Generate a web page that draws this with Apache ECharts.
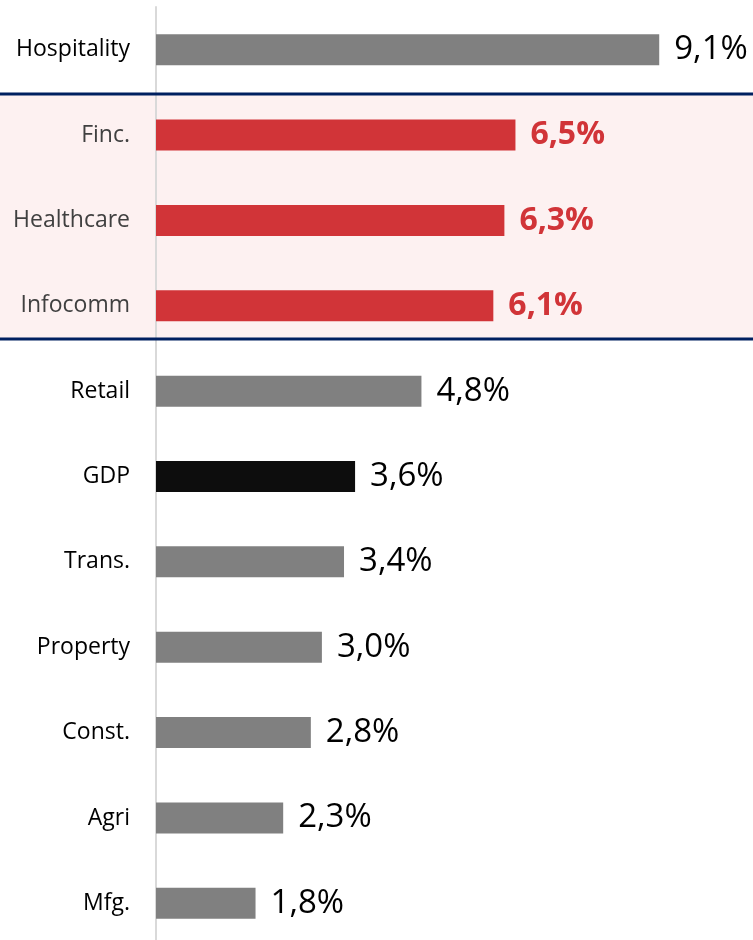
<!DOCTYPE html>
<html>
<head>
<meta charset="utf-8">
<script src="https://cdn.jsdelivr.net/npm/echarts@6/dist/echarts.min.js"></script>
<style>
html,body{margin:0;padding:0;background:#fff;}
#c{width:753px;height:940px;}
</style>
</head>
<body>
<div id="c"></div>
<script>
const categories = ['Hospitality','Finc.','Healthcare','Infocomm','Retail','GDP','Trans.','Property','Const.','Agri','Mfg.'];
const values = [9.1, 6.5, 6.3, 6.1, 4.8, 3.6, 3.4, 3.0, 2.8, 2.3, 1.8];
const highlighted = ['Finc.','Healthcare','Infocomm'];
const benchmark = 'GDP';

const GRAY = '#808080', RED = '#d13438', BLACK = '#0d0d0d', NAVY = '#002060', PINK = '#fdf1f1';

const chart = echarts.init(document.getElementById('c'), null, {renderer:'canvas'});
const font = '"Open Sans", "Noto Sans", sans-serif';

const data = categories.map((c, i) => {
  const hi = highlighted.includes(c);
  const isB = c === benchmark;
  return {
    value: values[i],
    itemStyle: {color: hi ? RED : (isB ? BLACK : GRAY)},
    label: hi ? {color: RED, fontWeight: 'bold', fontSize: 32} : {color: '#000', fontWeight: 'normal', fontSize: 33}
  };
});

chart.setOption({
  animation: false,
  grid: {left: 156, top: 7, width: 553, height: 939, containLabel: false, outerBoundsMode: 'none'},
  xAxis: {type: 'value', min: 0, max: 10, show: false},
  yAxis: {
    type: 'category', data: categories, inverse: true,
    axisLine: {show: true, lineStyle: {color: '#d9d9d9', width: 2}},
    axisTick: {show: false},
    axisLabel: {
      margin: 26, fontSize: 23, fontFamily: font,
      color: function (v) { return highlighted.includes(v) ? '#404040' : '#000'; }
    }
  },
  series: [{
    type: 'bar', data: data, barWidth: 31, z: 3,
    label: {
      show: true, position: 'right', distance: 15, fontFamily: font,
      formatter: p => p.value.toFixed(1).replace('.', ',') + '%'
    }
  }]
});

// highlight band derived from the category scale
const yFirst = chart.convertToPixel({yAxisIndex: 0}, highlighted[0]);
const yLast = chart.convertToPixel({yAxisIndex: 0}, highlighted[highlighted.length - 1]);
const bandStep = chart.convertToPixel({yAxisIndex: 0}, categories[1]) - chart.convertToPixel({yAxisIndex: 0}, categories[0]);
const bandTop = yFirst - bandStep * 0.48;
const bandBot = yLast + bandStep * 0.39;
chart.setOption({
  graphic: [
    {type: 'rect', z: -1, silent: true, shape: {x: 0, y: bandTop, width: 753, height: bandBot - bandTop}, style: {fill: PINK}},
    {type: 'line', z: 10, silent: true, shape: {x1: 0, y1: bandTop, x2: 753, y2: bandTop}, style: {stroke: NAVY, lineWidth: 3}},
    {type: 'line', z: 10, silent: true, shape: {x1: 0, y1: bandBot, x2: 753, y2: bandBot}, style: {stroke: NAVY, lineWidth: 3}}
  ]
});
</script>
</body>
</html>
